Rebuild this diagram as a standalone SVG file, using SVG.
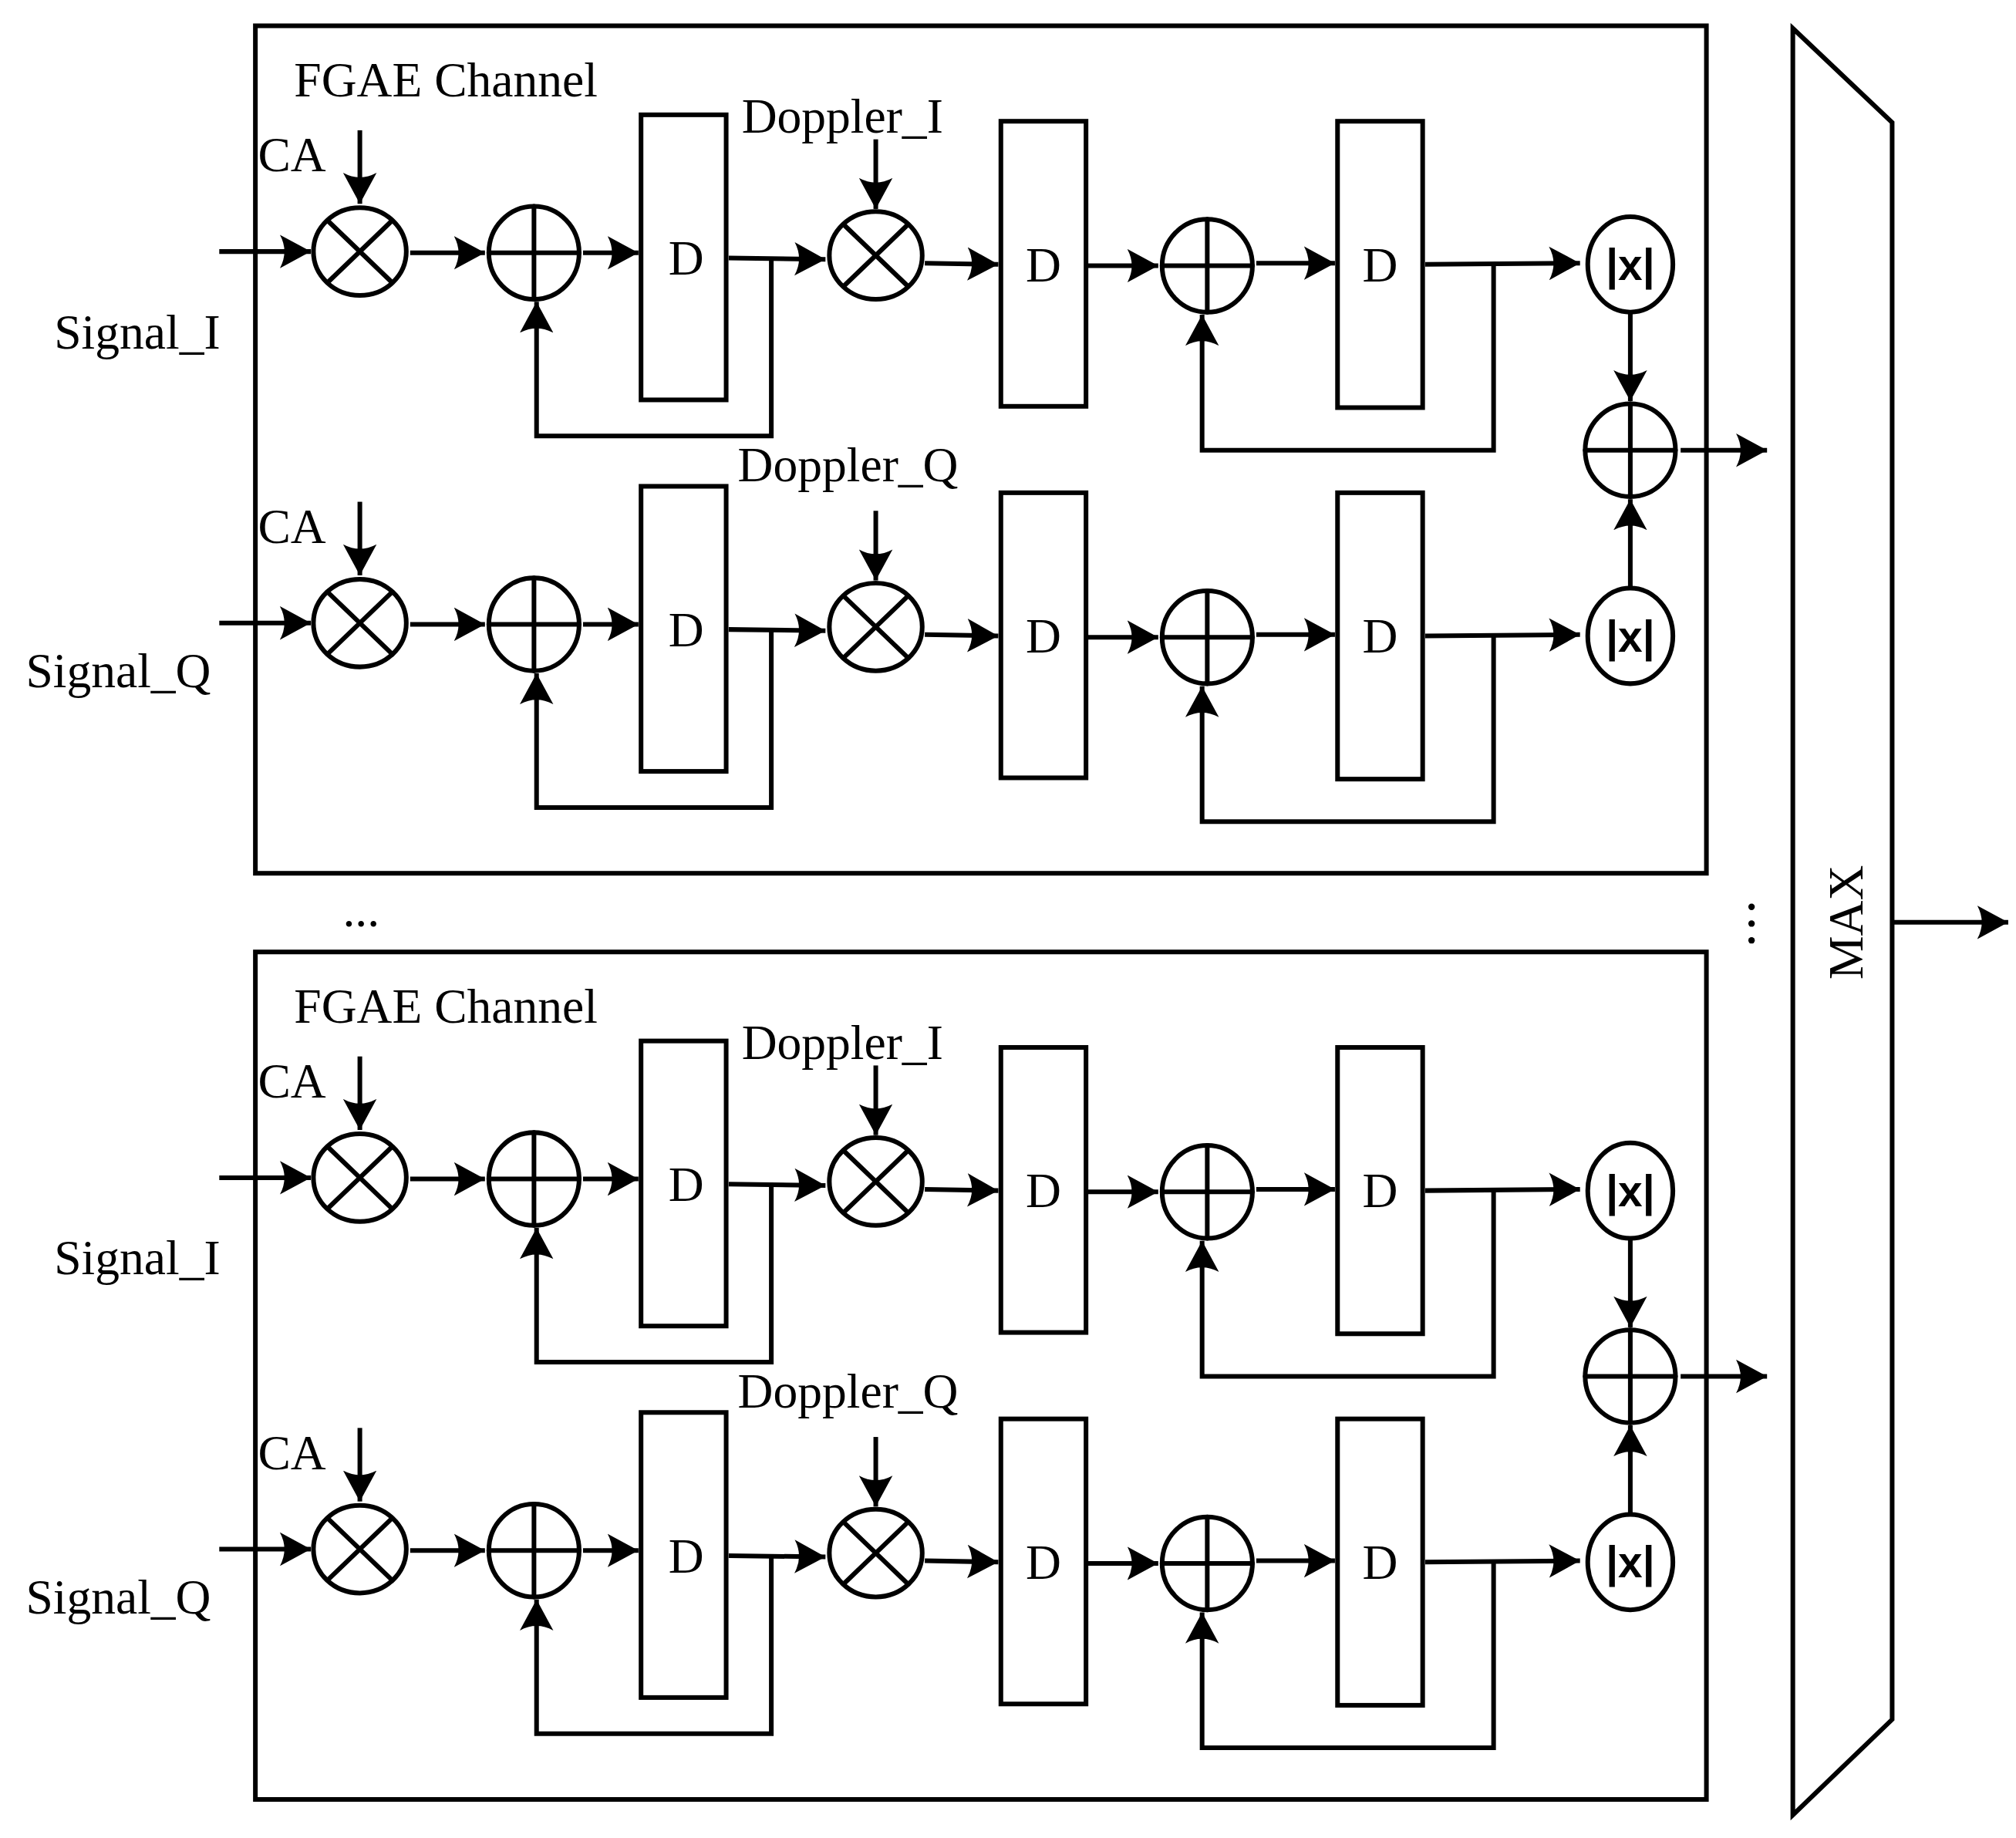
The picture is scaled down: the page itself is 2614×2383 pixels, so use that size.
<svg xmlns="http://www.w3.org/2000/svg" xmlns:xlink="http://www.w3.org/1999/xlink" width="2614" height="2383" viewBox="0 0 2614 2383">
<style>
.s{fill:none;stroke:#000;stroke-width:3.6;stroke-linecap:round;stroke-linejoin:miter}
.c{fill:#fff;stroke:#000;stroke-width:3.6}
.a{fill:none;stroke:#000;stroke-width:3.6;marker-end:url(#ah)}
.t{font-family:"Liberation Serif","DejaVu Serif",serif;font-size:38px;fill:#000}
.ab{font-family:"Liberation Sans",Arial,sans-serif;font-size:34px;font-weight:bold;fill:#000}
</style>
<defs>
<marker id="ah" markerUnits="userSpaceOnUse" markerWidth="30" markerHeight="30" viewBox="0 0 30 30" refX="24" refY="15" orient="auto">
<path d="M0,2 L24,15 L0,28 Q7,15 0,2 Z" fill="#000"/>
</marker>
<g id="row">
<line class="a" x1="170" y1="195" x2="241" y2="195"/>
<ellipse class="c" cx="279" cy="195" rx="36" ry="34"/>
<path class="s" d="M254,171 L304,219 M304,171 L254,219"/>
<line class="a" x1="318" y1="196" x2="376" y2="196"/>
<ellipse class="c" cx="414" cy="196" rx="35" ry="36"/>
<path class="s" d="M379,196 H449 M414,160 V232"/>
<line class="a" x1="452" y1="196" x2="495" y2="196"/>
<rect class="s" x="497" y="89" width="66" height="221"/>
<text class="t" x="532" y="213" text-anchor="middle">D</text>
<line class="a" x1="565" y1="200" x2="640" y2="201"/>
<polyline class="a" points="598,200 598,338 416,338 416,234"/>
<ellipse class="c" cx="679" cy="198" rx="36" ry="34"/>
<path class="s" d="M654,174 L704,222 M704,174 L654,222"/>
<line class="a" x1="679" y1="108" x2="679" y2="162"/>
<line class="a" x1="717" y1="204" x2="774" y2="205"/>
<rect class="s" x="776" y="94" width="66" height="221"/>
<text class="t" x="809" y="218" text-anchor="middle">D</text>
<line class="a" x1="842" y1="206" x2="898" y2="206"/>
<ellipse class="c" cx="936" cy="206" rx="35" ry="36"/>
<path class="s" d="M901,206 H971 M936,170 V242"/>
<polyline class="a" points="1158,205 1158,349 932,349 932,244"/>
<line class="a" x1="974" y1="204" x2="1035" y2="204"/>
<rect class="s" x="1037" y="94" width="66" height="222"/>
<text class="t" x="1070" y="218" text-anchor="middle">D</text>
<line class="a" x1="1105" y1="205" x2="1225" y2="204"/>
<ellipse class="c" cx="1264" cy="205" rx="33" ry="37"/>
<text class="ab" x="1264" y="217" text-anchor="middle">|x|</text>
</g>
<g id="chan">
<rect class="s" x="198" y="20" width="1125" height="657"/>
<text class="t" x="228" y="75">FGAE Channel</text>
<use xlink:href="#row"/>
<use xlink:href="#row" transform="translate(0,288)"/>
<text class="t" x="200" y="133">CA</text>
<line class="a" x1="279" y1="101" x2="279" y2="158"/>
<text class="t" x="200" y="421">CA</text>
<line class="a" x1="279" y1="389" x2="279" y2="446"/>
<text class="t" x="42" y="270">Signal_I</text>
<text class="t" x="20" y="533">Signal_Q</text>
<text class="t" x="575" y="103">Doppler_I</text>
<text class="t" x="572" y="373">Doppler_Q</text>
<line class="a" x1="1264" y1="243" x2="1264" y2="311"/>
<line class="a" x1="1264" y1="456" x2="1264" y2="387"/>
<ellipse class="c" cx="1264" cy="349" rx="35" ry="36"/>
<path class="s" d="M1229,349 H1299 M1264,313 V385"/>
<line class="a" x1="1303" y1="349" x2="1370" y2="349"/>
</g>
</defs>
<g transform="scale(1.6724)">
<g id="channel1"><use xlink:href="#chan"/></g>
<g id="channel2"><use xlink:href="#chan" transform="translate(0,718)"/></g>
<g id="max">
<polygon class="s" points="1390,22 1467,95 1467,1333 1390,1407"/>
<text class="t" transform="translate(1444,715) rotate(-90)" text-anchor="middle">MAX</text>
</g>
<g id="connectors">
<line class="a" x1="1467" y1="715" x2="1557" y2="715"/>
</g>
<g id="dots">
<text class="t" x="280" y="718" text-anchor="middle">...</text>
<circle cx="1358" cy="703" r="2.5"/><circle cx="1358" cy="716" r="2.5"/><circle cx="1358" cy="729" r="2.5"/>
</g>
</g>
</svg>
